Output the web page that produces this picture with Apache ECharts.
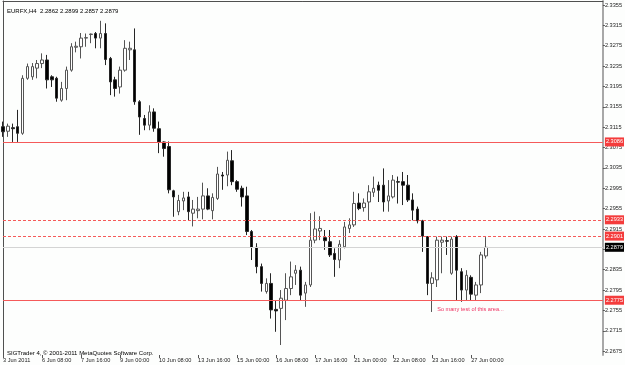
<!DOCTYPE html>
<html lang="en">
<head>
    <meta charset="UTF-8">
    <title>EURFX H4</title>
    <script src="https://cdn.jsdelivr.net/npm/echarts/dist/echarts.min.js"></script>
    <style>
        html, body { margin: 0; padding: 0; background: #fdfefd; }
    </style>
</head>
<body>
<div id="main" style="width: 625px;height:365px;"></div>

<script type="text/javascript">
    // H4 bars (MT4 order: open, high, low, close)
    var opens = [2.3116, 2.3107, 2.3114, 2.3116, 2.3103, 2.3211, 2.3214, 2.3231, 2.3240, 2.3247,
        2.3214, 2.3211, 2.3168, 2.3191, 2.3227, 2.3272, 2.3273, 2.3290, 2.3297, 2.3299,
        2.3290, 2.3299, 2.3250, 2.3208, 2.3194, 2.3227, 2.3267, 2.3267, 2.3165, 2.3132,
        2.3119, 2.3145, 2.3112, 2.3086, 2.3077, 2.2990, 2.2949, 2.2970, 2.2978, 2.2946,
        2.2951, 2.2954, 2.2980, 2.2951, 2.2975, 2.3021, 2.3021, 2.3049, 2.3008, 2.2995,
        2.2980, 2.2910, 2.2879, 2.2841, 2.2792, 2.2808, 2.2757, 2.2759, 2.2775, 2.2798,
        2.2828, 2.2834, 2.2789, 2.2805, 2.2893, 2.2911, 2.2898, 2.2890, 2.2867, 2.2854,
        2.2880, 2.2916, 2.2923, 2.2966, 2.2957, 2.2968, 2.2987, 2.3001, 2.3001, 2.2970,
        2.2978, 2.3008, 2.3008, 2.3001, 2.2972, 2.2954, 2.2931, 2.2900, 2.2808, 2.2815,
        2.2889, 2.2892, 2.2828, 2.2900, 2.2831, 2.2795, 2.2820, 2.2785, 2.2805, 2.2862];
    var highs = [2.3126, 2.3122, 2.3122, 2.3149, 2.3217, 2.3240, 2.3241, 2.3247, 2.3260, 2.3257,
        2.3217, 2.3214, 2.3204, 2.3234, 2.3280, 2.3283, 2.3300, 2.3299, 2.3299, 2.3302,
        2.3324, 2.3319, 2.3253, 2.3214, 2.3234, 2.3286, 2.3283, 2.3309, 2.3168, 2.3139,
        2.3158, 2.3152, 2.3126, 2.3087, 2.3087, 2.2992, 2.2982, 2.2988, 2.2988, 2.2972,
        2.2978, 2.3006, 2.2995, 2.2985, 2.3037, 2.3027, 2.3067, 2.3070, 2.3011, 2.3000,
        2.2998, 2.2913, 2.2887, 2.2847, 2.2818, 2.2828, 2.2775, 2.2795, 2.2828, 2.2851,
        2.2844, 2.2841, 2.2811, 2.2946, 2.2949, 2.2940, 2.2913, 2.2913, 2.2877, 2.2893,
        2.2929, 2.2936, 2.2988, 2.2985, 2.2975, 2.3001, 2.3018, 2.3008, 2.3034, 2.3011,
        2.3021, 2.3018, 2.3027, 2.3021, 2.2985, 2.2959, 2.2933, 2.2901, 2.2830, 2.2900,
        2.2900, 2.2900, 2.2900, 2.2903, 2.2838, 2.2834, 2.2824, 2.2811, 2.2870, 2.2899];
    var lows = [2.3096, 2.3096, 2.3086, 2.3086, 2.3100, 2.3208, 2.3208, 2.3211, 2.3231, 2.3191,
        2.3194, 2.3165, 2.3165, 2.3168, 2.3224, 2.3262, 2.3250, 2.3273, 2.3280, 2.3270,
        2.3270, 2.3237, 2.3178, 2.3175, 2.3181, 2.3224, 2.3247, 2.3159, 2.3100, 2.3109,
        2.3109, 2.3106, 2.3064, 2.3057, 2.2985, 2.2939, 2.2942, 2.2952, 2.2932, 2.2920,
        2.2936, 2.2934, 2.2952, 2.2934, 2.2972, 2.2992, 2.2999, 2.3001, 2.2988, 2.2959,
        2.2903, 2.2854, 2.2828, 2.2792, 2.2788, 2.2739, 2.2713, 2.2687, 2.2736, 2.2785,
        2.2805, 2.2775, 2.2762, 2.2801, 2.2887, 2.2893, 2.2874, 2.2860, 2.2821, 2.2838,
        2.2877, 2.2907, 2.2919, 2.2952, 2.2949, 2.2932, 2.2978, 2.2968, 2.2949, 2.2949,
        2.2975, 2.2965, 2.2962, 2.2968, 2.2932, 2.2926, 2.2870, 2.2785, 2.2752, 2.2801,
        2.2828, 2.2864, 2.2825, 2.2775, 2.2772, 2.2775, 2.2775, 2.2775, 2.2789, 2.2857];
    var closes = [2.3106, 2.3117, 2.3112, 2.3103, 2.3211, 2.3234, 2.3234, 2.3240, 2.3247, 2.3208,
        2.3208, 2.3172, 2.3191, 2.3227, 2.3273, 2.3274, 2.3290, 2.3291, 2.3298, 2.3290,
        2.3299, 2.3248, 2.3204, 2.3191, 2.3227, 2.3270, 2.3270, 2.3165, 2.3135, 2.3119,
        2.3145, 2.3113, 2.3086, 2.3073, 2.2992, 2.2978, 2.2971, 2.2976, 2.2949, 2.2954,
        2.2954, 2.2980, 2.2954, 2.2977, 2.3023, 2.3019, 2.3050, 2.3008, 2.2993, 2.2978,
        2.2910, 2.2879, 2.2841, 2.2808, 2.2808, 2.2756, 2.2754, 2.2779, 2.2798, 2.2821,
        2.2834, 2.2785, 2.2805, 2.2893, 2.2915, 2.2916, 2.2892, 2.2864, 2.2855, 2.2885,
        2.2919, 2.2923, 2.2965, 2.2955, 2.2966, 2.2988, 2.2995, 2.2991, 2.2968, 2.2980,
        2.3011, 2.3007, 2.3001, 2.2972, 2.2952, 2.2931, 2.2901, 2.2808, 2.2819, 2.2893,
        2.2893, 2.2891, 2.2895, 2.2834, 2.2795, 2.2824, 2.2787, 2.2805, 2.2864, 2.2879];

    // one label every 8 bars (32 hours)
    var timeLabels = ['3 Jun 2011', '6 Jun 08:00', '7 Jun 16:00', '9 Jun 00:00', '10 Jun 08:00',
        '13 Jun 16:00', '15 Jun 00:00', '16 Jun 08:00', '17 Jun 16:00', '21 Jun 00:00',
        '22 Jun 08:00', '23 Jun 16:00', '27 Jun 00:00'];
    var priceLabels = [2.2675, 2.2715, 2.2755, 2.2795, 2.2835, 2.2875, 2.2915, 2.2955, 2.2995,
        2.3035, 2.3075, 2.3115, 2.3155, 2.3195, 2.3235, 2.3275, 2.3315, 2.3355];

    var solidLevels = [2.3086, 2.2775];
    var dashedLevels = [2.2933, 2.2901];
    var lastPrice = 2.2879;
    var noteText = 'So many test of this area...';
    var noteAt = [88, 2.2757];

    var slots = 124;   // chart is shifted: empty room right of the last bar
    var yMin = 2.26674, yMax = 2.33629;
    var font = 'Liberation Sans';

    var cats = [];
    for (var i = 0; i < slots; i++) {
        cats.push(i % 8 === 0 && i / 8 < timeLabels.length ? timeLabels[i / 8] : '');
    }
    var candles = opens.map(function (o, i) {
        return [o, closes[i], lows[i], highs[i]];
    });

    function levelLine(v, color, type, box) {
        return {
            yAxis: v,
            lineStyle: {color: color, type: type, width: 1},
            label: {
                show: true, position: 'end', distance: 2,
                formatter: v.toFixed(4),
                color: '#fff', backgroundColor: box,
                fontFamily: font, fontSize: 5.6, padding: [2, 1, 1, 1]
            }
        };
    }

    var lines = [];
    lines.push(levelLine(lastPrice, '#d4d4d4', 'solid', '#000'));
    solidLevels.forEach(function (v) { lines.push(levelLine(v, '#f55a5a', 'solid', '#f43c3c')); });
    dashedLevels.forEach(function (v) { lines.push(levelLine(v, '#f55a5a', [3, 2], '#f43c3c')); });

    var myChart = echarts.init(document.getElementById('main'));
    myChart.setOption({
        animation: false,
        backgroundColor: '#fdfefd',
        title: [{
            text: 'EURFX,H4  2.2862 2.2899 2.2857 2.2879',
            left: 2, top: 3,
            textStyle: {fontFamily: font, fontSize: 6, fontWeight: 'normal', color: '#000'}
        }, {
            text: 'SIGTrader 4, \u00a9 2001-2011 MetaQuotes Software Corp.',
            left: 2, top: 345,
            textStyle: {fontFamily: font, fontSize: 6, fontWeight: 'normal', color: '#000'}
        }],
        grid: {left: 1, right: 21, top: 1, bottom: 10},
        xAxis: [{
            type: 'category',
            data: cats,
            boundaryGap: false,
            axisLine: {show: false},
            axisTick: {
                show: true, length: 3, lineStyle: {color: '#555'},
                interval: function (i, v) { return v !== ''; }
            },
            axisLabel: {
                interval: function (i, v) { return v !== ''; },
                align: 'left', margin: 2,
                fontFamily: font, fontSize: 5.6, color: '#222'
            },
            splitLine: {show: false}
        }, {
            type: 'category',
            data: cats,
            boundaryGap: false,
            position: 'top',
            axisLine: {show: true, lineStyle: {color: '#505050', width: 1}},
            axisTick: {show: false},
            axisLabel: {show: false}
        }],
        yAxis: [{
            type: 'value',
            position: 'right',
            min: yMin, max: yMax,
            splitLine: {show: false},
            axisLine: {show: true, lineStyle: {color: '#a8a8a8', width: 2}},
            axisTick: {show: true, length: 2, lineStyle: {color: '#555'}, customValues: priceLabels},
            axisLabel: {
                customValues: priceLabels, margin: 2,
                formatter: function (v) { return v.toFixed(4); },
                fontFamily: font, fontSize: 5.6, color: '#222'
            }
        }, {
            type: 'value',
            position: 'left',
            min: yMin, max: yMax,
            splitLine: {show: false},
            axisLine: {show: true, lineStyle: {color: '#505050', width: 1}},
            axisTick: {show: false},
            axisLabel: {show: false}
        }],
        series: [{
            name: 'EURFX',
            type: 'candlestick',
            data: candles,
            barWidth: 3,
            itemStyle: {
                color: '#ffffff',
                color0: '#000000',
                borderColor: '#555555',
                borderColor0: '#262626',
                borderWidth: 1
            },
            markLine: {
                silent: true,
                precision: 4,
                symbol: ['none', 'none'],
                data: lines
            },
            markPoint: {
                silent: true,
                symbolSize: 0,
                data: [{
                    coord: noteAt,
                    label: {
                        show: true, position: 'right', distance: 5,
                        formatter: noteText,
                        fontFamily: font, fontSize: 5.6, color: '#ee3060'
                    }
                }]
            }
        }]
    });
</script>
</body>
</html>
